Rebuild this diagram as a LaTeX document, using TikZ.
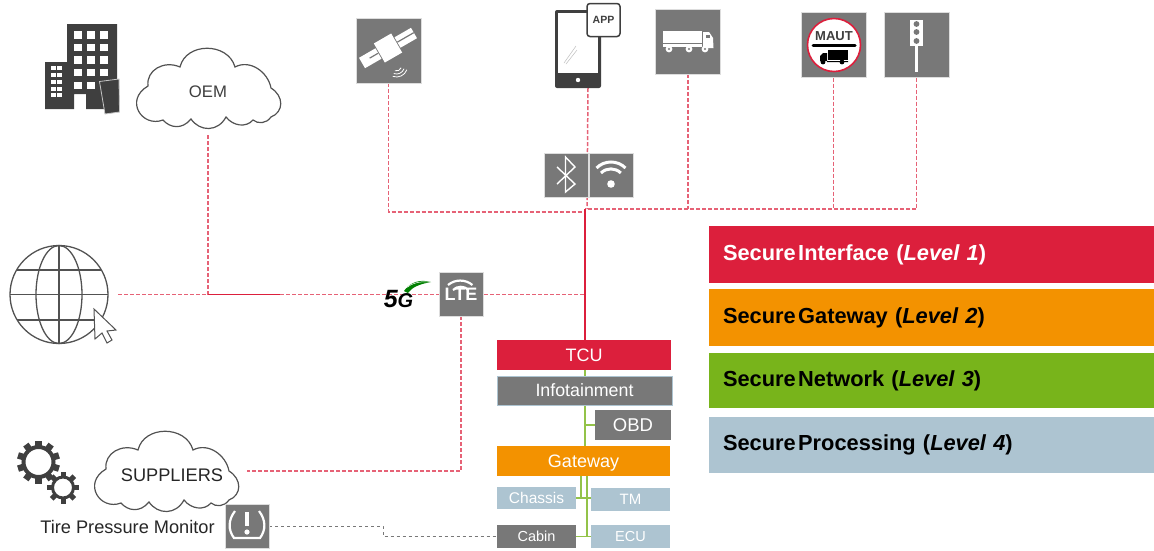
\documentclass[tikz,border=0pt]{standalone}
\usepackage{fontspec}
\setmainfont{Liberation Sans}
\usetikzlibrary{backgrounds}
\definecolor{secred}{HTML}{DC1F3C}
\definecolor{secorange}{HTML}{F39200}
\definecolor{secgreen}{HTML}{78B41B}
\definecolor{secblue}{HTML}{ADC4D1}
\definecolor{icongray}{HTML}{787878}
\definecolor{icondark}{HTML}{3F3F3F}
\newcommand{\fsize}[1]{\fontsize{#1}{#1}\selectfont}
\newcommand{\levelname}[2]{{\spaceskip=2.5pt Secure #1} (\textit{Level #2})}

\begin{document}
\begin{tikzpicture}
    [
    x=1pt, y=-1pt,
    every node/.style={inner sep=0pt, outer sep=0pt},
    iconbox/.style={fill=icongray, draw=white!75!icongray, line width=0.5pt, minimum width=#1, minimum height=#1},
    iconbox/.default=65pt,
    ecu/.style={text=white, minimum width=#1, text depth=0pt},
    levelbox/.style={fill=#1, anchor=west, minimum width=445pt, text width=417pt, align=left, font=\fsize{21.8}\bfseries},
    secline/.style={draw=secred!70!white, line width=1.5pt, dash pattern=on 4pt off 2pt},
    buscan/.style={draw=secgreen!80!white, line width=1.3pt},
    cloudpic/.pic={
        \draw[draw=icondark!90!white, line width=1.2pt, fill=white]
        (-28,-25) .. controls (-22,-50) and (20,-50) .. (27,-25)
        .. controls (42,-33) and (60,-20) .. (63,-4)
        .. controls (76,4) and (76,20) .. (63,25)
        .. controls (58,32) and (50,32) .. (45,28)
        .. controls (38,36) and (25,34) .. (18,25)
        .. controls (10,40) and (-8,40) .. (-17,27)
        .. controls (-26,38) and (-38,36) .. (-45,28)
        .. controls (-66,36) and (-84,8) .. (-60,-6)
        .. controls (-62,-22) and (-44,-32) .. (-28,-25) -- cycle;
    },
    ]
    \useasboundingbox (0,0) rectangle (1154,550);

    % legend
    \node[levelbox=secred, minimum height=57pt, text=white] (lvl_interface) at (709,254.5) {\levelname{Interface}{1}};
    \node[levelbox=secorange, minimum height=57pt] (lvl_gateway) at (709,317.5) {\levelname{Gateway}{2}};
    \node[levelbox=secgreen, minimum height=55pt] (lvl_network) at (709,380.5) {\levelname{Network}{3}};
    \node[levelbox=secblue, minimum height=56pt] (lvl_processing) at (709,445) {\levelname{Processing}{4}};

    % vehicle
    \node[fill=secred, ecu=174pt, minimum height=30pt, font=\fsize{18}] (tcu) at (584,355) {TCU};
    \node[fill=icongray, draw=secblue, line width=0.6pt, ecu=175pt, minimum height=29pt, font=\fsize{17.8}] (info) at (584.5,390.5) {Infotainment};
    \node[fill=icongray, ecu=76pt, minimum height=30pt, font=\fsize{18.5}] (obd) at (633,425) {OBD};
    \node[fill=secorange, ecu=173pt, minimum height=30pt, font=\fsize{18}] (gateway) at (583.5,461) {Gateway};
    \node[fill=secblue, ecu=79pt, minimum height=22pt, font=\fsize{15.5}] (chassis) at (536.5,498) {Chassis};
    \node[fill=secblue, ecu=79pt, minimum height=23pt, font=\fsize{15}] (tm) at (630.5,499.5) {TM};
    \node[fill=icongray, ecu=79pt, minimum height=23pt, font=\fsize{14.5}] (cabin) at (536.5,536.5) {Cabin};
    \node[fill=secblue, ecu=79pt, minimum height=23pt, font=\fsize{14.5}] (ecu) at (630.5,536.5) {ECU};

    % clouds
    \pic at (208,92) {cloudpic};
    \node[minimum width=146pt, minimum height=86pt, text=icondark, font=\fsize{16.7}] (oem) at (208,92) {OEM};
    \pic at (166,475) {cloudpic};
    \node[minimum width=150pt, minimum height=86pt, text=black!85, font=\fsize{18.2}] (suppliers) at (172,475) {SUPPLIERS};
    \node[font=\fsize{18.2}, text=black!85] (tire_label) at (127.5,527) {Tire Pressure Monitor};

    % building
    \fill[icondark] (67,24) -- (117,24) -- (117,109) -- (86,109) -- (86,94) -- (74,94) -- (74,109) -- (45,109) -- (45,62) -- (67,62) -- cycle;
    \foreach \wy/\wxs in {31/{74,87,100}, 43.5/{74,87,100}, 56/{74,87,100}, 68.5/{74,87,100}, 81.5/{74,87}}
        \foreach \wx in \wxs
            \fill[white] (\wx,\wy) rectangle ++(8,7.5);
    \foreach \wy in {66,73,80,87,93}
        \foreach \wx in {51,57}
            \fill[white] (\wx,\wy) rectangle ++(4.5,4);
    \draw[icondark, fill=icondark, draw=white!70!icondark, line width=0.8pt] (99.5,81.5) -- (119,79) -- (119.5,112) -- (105,114) -- cycle;

    % globe
    \node[minimum width=98pt, minimum height=98pt] (globe) at (59,294.5) {};
    \begin{scope}[icondark!90!white, line width=1.3pt]
        \draw (59,294.5) circle[radius=49pt];
        \draw (59,294.5) ellipse[x radius=23pt, y radius=49pt];
        \draw (59,245.5) -- (59,343.5);
        \draw (10,294.5) -- (108,294.5);
        \draw (17,270) -- (101,270);
        \draw (17,320) -- (101,320);
    \end{scope}
    \draw[icondark!90!white, fill=white, line width=1pt] (94,309) -- (116,330) -- (107,331) -- (112,340) -- (107,343) -- (102,333) -- (95,339) -- cycle;

    % gears
    \foreach \cx/\cy/\rad/\wid/\out/\tooth/\stp in {38.5/462/15/4/21.5/6.5/36, 63/487.5/10.5/3/16/5/45}{
        \draw[icondark, line width=\wid pt] (\cx,\cy) circle[radius=\rad pt];
        \foreach \ang in {0,\stp,...,359}
            \fill[icondark, rotate around={\ang:(\cx,\cy)}] (\cx-\tooth/2,\cy-\out) rectangle (\cx+\tooth/2,\cy-\rad);
    }

    % satellite
    \node[iconbox] (sat) at (388.5,50.5) {};
    \begin{scope}[shift={(388,48)}, rotate=30]
        \fill[white] (-30,-6) rectangle (-11,6);
        \fill[white] (11,-6) rectangle (30,6);
        \fill[white] (-10,-11) rectangle (10,11);
        \fill[icongray] (-21,-1) rectangle (-11,0.2);
        \fill[icongray] (11,-1) rectangle (30,0.2);
    \end{scope}
    \foreach \rad in {5,8,11}
        \draw[white, line width=0.8pt] (396.5,66) ++(-20:\rad pt) arc[start angle=-20, end angle=-110, radius=\rad pt];

    % phone
    \node[minimum width=66pt, minimum height=85pt] (phone) at (588,45.5) {};
    \fill[icondark, rounded corners=2pt] (555,10) rectangle (601,88);
    \fill[white] (558,13) rectangle (598,73);
    \fill[white] (578,80) circle[radius=2.2pt];
    \draw[black!25, line width=0.5pt] (564,63) -- (576,46) (566,64) -- (577,50);
    \node[fill=white, draw=icondark, line width=1.5pt, rounded corners=3pt, minimum width=33pt, minimum height=33pt, text=icondark, font=\fsize{10.5}\bfseries] (app) at (603.5,20) {APP};

    % truck
    \node[iconbox] (truck) at (688,41.5) {};
    \fill[white] (663,31) rectangle (702,43);
    \fill[white] (663,44) rectangle (702,47);
    \fill[white] (703,32) -- (709,32) -- (713,38) -- (713.5,48) -- (703,48) -- cycle;
    \fill[icongray] (706,35) rectangle (710,38);
    \foreach \wx in {669,689,705}{
        \fill[white] (\wx,49) circle[radius=3.4pt];
        \fill[icongray] (\wx,49) circle[radius=1.2pt];
    }

    % toll sign
    \node[iconbox] (maut) at (833.5,45) {};
    \draw[fill=white, draw=secred, line width=1.6pt] (834,45) circle[radius=26.5pt];
    \node[font=\fsize{13}\bfseries, text=icondark] (maut_label) at (834,36.5) {MAUT};
    \draw[black, line width=3pt, line cap=round] (813,45) -- (855,45);
    \fill[black] (828,50) rectangle (848,60);
    \fill[black] (820,62) -- (820,56) -- (823,53) -- (827,53) -- (827,62) -- (848,62) -- (848,61) -- (820,61) -- cycle;
    \foreach \wx in {823,842}
        \fill[black] (\wx,62) circle[radius=2.4pt];

    % traffic light
    \node[iconbox] (light) at (916.5,45) {};
    \fill[white] (910,20) rectangle (923,46);
    \fill[white] (915,46) rectangle (918,72);
    \foreach \ly in {24,32,41}
        \fill[icongray] (916.5,\ly) circle[radius=2.9pt];

    % bluetooth and wifi
    \node[iconbox=44pt] (bt) at (566,175) {};
    \node[iconbox=44pt] (wifi) at (611,175) {};
    \draw[white, line width=1.4pt] (557,167) -- (575,184) -- (565.5,192) -- (565.5,157) -- (575,167) -- (557,184);
    \fill[white] (611,184) circle[radius=3.8pt];
    \draw[white, line width=3pt] (601,173) arc[start angle=135, end angle=45, radius=14pt];
    \draw[white, line width=3pt] (596.5,168) arc[start angle=135, end angle=45, radius=20.5pt];

    % lte
    \node[iconbox=44pt, font=\fsize{18}\bfseries, text=white] (lte) at (461,294) {\raisebox{-11pt}{LTE}};
    \draw[white, line width=2.2pt] (453,290) arc[start angle=135, end angle=45, radius=11pt];
    \draw[white, line width=2.2pt] (448,285) arc[start angle=130, end angle=50, radius=19pt];

    % tpms
    \node[iconbox=44pt] (tpms) at (247,526) {};
    \draw[white, line width=2.2pt] (235,511) .. controls (228,520) and (228,530) .. (234,538) -- (260,538) .. controls (266,530) and (266,520) .. (259,511);
    \draw[white, line width=4pt] (247,512) -- (247,526);
    \fill[white] (247,532) circle[radius=2.6pt];

    % 5g
    \node[font=\fsize{25}\bfseries\itshape, text=black] (fiveg) at (398.5,299) {5{\fsize{20}G}};
    \fill[green!50!black] (404,291) .. controls (410,282) and (420,279) .. (431,282) .. controls (420,284) and (412,287) .. (408,293) -- cycle;
    \draw[white, line width=0.5pt] (406,288) .. controls (412,283) and (420,281) .. (430,282);

    % connectors
    \coordinate (bus_top) at (585,209);
    \coordinate (bus_net) at (584,294.5);
    \coordinate (oem_corner) at (208,294.5);
    \begin{scope}[on background layer]
        \draw[secline] (globe.east) ++(10,0) -- (bus_net);
        \draw[secline] (oem.south) -- (oem_corner);
        \draw[draw=secred, line width=1.3pt] (oem_corner) -- ++(72,0);
        \draw[secline] (sat.south) |- (bus_top |- 0,212);
        \draw[secline] (phone.south) -- (bus_top -| 587,0);
        \draw[secline] (truck.south) -- (truck |- bus_top);
        \draw[secline] (maut.south) -- (maut |- bus_top);
        \draw[secline] (light.south) |- (bus_top);
        \draw[draw=secred, line width=1.5pt] (bus_top) -- (tcu.north -| bus_top);
        \draw[secline] (lte.south) |- (suppliers.east |- 0,471);
        \draw[dash pattern=on 3pt off 3pt, draw=icongray, line width=1pt] (tpms.east) -- (383,526) |- (cabin.west);
        \draw[buscan] (tcu.south -| bus_top) -- (gateway.north -| bus_top);
        \draw[buscan] (bus_top |- obd.west) -- (obd.west);
        \draw[buscan] (581,476) -- (581,498);
        \draw[buscan] (chassis.east) -- (tm.west |- chassis.east);
        \draw[buscan] (587,476) -- (587,536.5);
        \draw[buscan] (cabin.east) -- (ecu.west);
    \end{scope}
\end{tikzpicture}
\end{document}
